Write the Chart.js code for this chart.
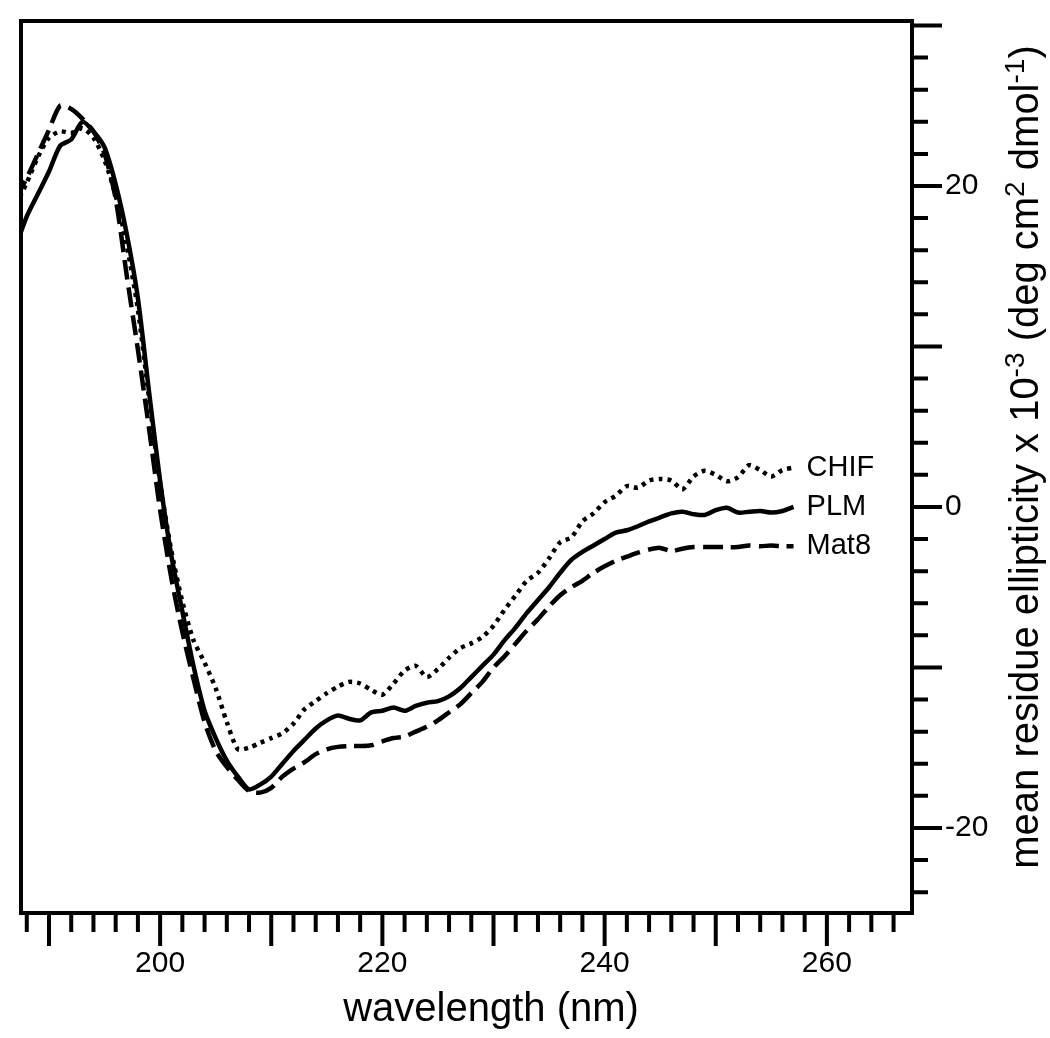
<!DOCTYPE html>
<html>
<head>
<meta charset="utf-8">
<script src="https://cdn.jsdelivr.net/npm/chart.js@4/dist/chart.umd.min.js"></script>
<style>
  body { margin: 0; background: #fff; }
  canvas { display: block; }
</style>
</head>
<body>
<canvas id="chartCD" width="1050" height="1038"></canvas>
<script>
// wavelength (nm), 1 nm steps
const wavelength = [187, 188, 189, 190, 191, 192, 193, 194, 195, 196,
  197, 198, 199, 200, 201, 202, 203, 204, 205, 206,
  207, 208, 209, 210, 211, 212, 213, 214, 215, 216,
  217, 218, 219, 220, 221, 222, 223, 224, 225, 226,
  227, 228, 229, 230, 231, 232, 233, 234, 235, 236,
  237, 238, 239, 240, 241, 242, 243, 244, 245, 246,
  247, 248, 249, 250, 251, 252, 253, 254, 255, 256, 257];

// mean residue ellipticity x 10^-3
const chif = [18.8, 20.2, 21.8, 23.0, 23.4, 23.3, 23.6, 23.0, 21.6, 19.4,
  16.3, 12.3, 6.8, 1.5, -2.7, -5.9, -8.3, -9.7, -11.3, -13.4,
  -15.1, -15.0, -14.7, -14.4, -14.1, -13.5, -12.6, -12.1, -11.6, -11.2,
  -10.9, -11.0, -11.4, -11.7, -11.0, -10.2, -9.9, -10.6, -10.1, -9.4,
  -8.8, -8.5, -8.1, -7.4, -6.4, -5.5, -4.6, -4.1, -3.2, -2.2,
  -1.9, -0.9, -0.4, 0.3, 0.7, 1.3, 1.2, 1.65, 1.75, 1.65,
  1.1, 1.9, 2.25, 2.0, 1.6, 1.85, 2.6, 2.3, 1.9, 2.3, 2.45];

const plm = [16.2, 18.1, 19.5, 20.9, 22.5, 22.9, 24.0, 23.4, 22.4, 20.1,
  17.0, 13.0, 7.2, 1.6, -3.0, -6.5, -9.9, -12.7, -14.4, -15.8,
  -16.8, -17.6, -17.3, -16.8, -16.0, -15.2, -14.5, -13.8, -13.3, -13.0,
  -13.2, -13.3, -12.8, -12.7, -12.5, -12.7, -12.4, -12.2, -12.1, -11.8,
  -11.3, -10.6, -9.9, -9.2, -8.3, -7.5, -6.6, -5.8, -5.0, -4.1,
  -3.3, -2.8, -2.4, -2.0, -1.6, -1.45, -1.2, -0.9, -0.65, -0.4,
  -0.3, -0.45, -0.5, -0.2, -0.05, -0.35, -0.3, -0.25, -0.35, -0.25, 0.0];

const mat8 = [19.2, 20.5, 22.0, 23.5, 25.0, 24.8, 24.2, 23.4, 22.0, 19.2,
  14.4, 9.8, 4.9, -0.2, -4.4, -7.8, -10.7, -13.4, -15.2, -16.2,
  -17.0, -17.7, -17.8, -17.5, -16.8, -16.3, -15.9, -15.4, -15.1, -14.95,
  -14.9, -14.9, -14.85, -14.6, -14.4, -14.3, -14.0, -13.7, -13.3, -12.8,
  -12.3, -11.6, -10.9, -10.0, -9.3, -8.5, -7.7, -7.0, -6.2, -5.5,
  -5.0, -4.6, -4.1, -3.7, -3.35, -3.1, -2.85, -2.65, -2.55, -2.75,
  -2.6, -2.5, -2.5, -2.5, -2.5, -2.5, -2.4, -2.45, -2.4, -2.45, -2.45];

const seriesNames = ['CHIF', 'PLM', 'Mat8'];

const FONT = "'Liberation Sans', Arial, sans-serif";

function toPoints(vals) {
  return wavelength.map((w, i) => ({ x: w, y: vals[i] }));
}

// frame, tick marks, axis titles and curve labels
const decorPlugin = {
  id: 'decor',
  afterDatasetsDraw(chart) {
    const ctx = chart.ctx;
    const a = chart.chartArea;
    const xs = chart.scales.x;
    const ys = chart.scales.y;
    ctx.save();
    ctx.strokeStyle = '#000';
    ctx.lineWidth = 4;
    ctx.lineCap = 'butt';
    ctx.strokeRect(a.left, a.top, a.right - a.left, a.bottom - a.top);

    ctx.beginPath();
    xs.ticks.forEach(t => {
      const px = xs.getPixelForValue(t.value);
      const len = Math.round(t.value) % 10 === 0 ? 33 : 19;
      ctx.moveTo(px, a.bottom);
      ctx.lineTo(px, a.bottom + len);
    });
    ys.ticks.forEach(t => {
      const py = ys.getPixelForValue(t.value);
      const len = Math.round(t.value) % 10 === 0 ? 30 : 16;
      ctx.moveTo(a.right, py);
      ctx.lineTo(a.right + len, py);
    });
    ctx.stroke();

    // labels at the end of each curve
    ctx.fillStyle = '#000';
    ctx.font = '29px ' + FONT;
    ctx.textAlign = 'left';
    ctx.textBaseline = 'middle';
    let endX = 0;
    chart.data.datasets.forEach((ds, i) => {
      const pts = chart.getDatasetMeta(i).data;
      endX = Math.max(endX, pts[pts.length - 1].x);
    });
    chart.data.datasets.forEach((ds, i) => {
      const pts = chart.getDatasetMeta(i).data;
      ctx.fillText(ds.label, endX + 13, pts[pts.length - 1].y);
    });
    ctx.restore();
  },
  afterDraw(chart) {
    const ctx = chart.ctx;
    ctx.save();
    ctx.fillStyle = '#000';
    ctx.font = '40px ' + FONT;
    ctx.textAlign = 'center';
    ctx.textBaseline = 'alphabetic';
    ctx.fillText('wavelength (nm)', 491, 1021);

    // rotated y title with superscripts
    const parts = [
      ['mean residue ellipticity x 10', false],
      ['-3', true],
      [' (deg cm', false],
      ['2', true],
      [' dmol', false],
      ['-1', true],
      [')', false]
    ];
    const big = '40px ' + FONT, small = '28px ' + FONT;
    let total = 0;
    parts.forEach(p => { ctx.font = p[1] ? small : big; total += ctx.measureText(p[0]).width; });
    ctx.translate(1038, 457);
    ctx.rotate(-Math.PI / 2);
    ctx.textAlign = 'left';
    let cx = -total / 2;
    parts.forEach(p => {
      ctx.font = p[1] ? small : big;
      ctx.fillText(p[0], cx, p[1] ? -14 : 0);
      cx += ctx.measureText(p[0]).width;
    });
    ctx.restore();
  }
};

const labelEvery20 = v => (Math.round(v) % 20 === 0 ? String(Math.round(v)) : '');

function fixSize(w, h) {
  return s => {
    if (w) s.width = w;
    if (h) s.height = h;
    s.paddingTop = 0;
    s.paddingBottom = 0;
    s.paddingLeft = 0;
    s.paddingRight = 0;
  };
}

new Chart(document.getElementById('chartCD'), {
  type: 'line',
  data: {
    datasets: [
      { label: seriesNames[0], data: toPoints(chif), borderColor: '#000', borderWidth: 4.5, borderDash: [4, 5], borderCapStyle: 'butt' },
      { label: seriesNames[1], data: toPoints(plm), borderColor: '#000', borderWidth: 4.5 },
      { label: seriesNames[2], data: toPoints(mat8), borderColor: '#000', borderWidth: 4.5, borderDash: [20, 8], borderCapStyle: 'butt' }
    ]
  },
  options: {
    responsive: false,
    animation: false,
    devicePixelRatio: 1,
    layout: { padding: { left: 21, top: 21, right: 0, bottom: 0 } },
    elements: { point: { radius: 0 }, line: { tension: 0.25, fill: false } },
    plugins: { legend: { display: false }, tooltip: { enabled: false } },
    scales: {
      x: {
        type: 'linear',
        position: 'bottom',
        min: 187.48,
        max: 267.66,
        afterFit: fixSize(0, 125),
        grid: { display: false, drawTicks: false },
        border: { display: false },
        ticks: {
          stepSize: 2,
          includeBounds: false,
          autoSkip: false,
          maxRotation: 0,
          padding: 33,
          color: '#000',
          font: { family: FONT, size: 30 },
          callback: labelEvery20
        }
      },
      y: {
        type: 'linear',
        position: 'right',
        min: -25.3,
        max: 30.28,
        afterFit: fixSize(138, 0),
        grid: { display: false, drawTicks: false },
        border: { display: false },
        ticks: {
          stepSize: 2,
          includeBounds: false,
          autoSkip: false,
          padding: 33,
          color: '#000',
          font: { family: FONT, size: 30 },
          callback: labelEvery20
        }
      }
    }
  },
  plugins: [decorPlugin]
});
</script>
</body>
</html>
